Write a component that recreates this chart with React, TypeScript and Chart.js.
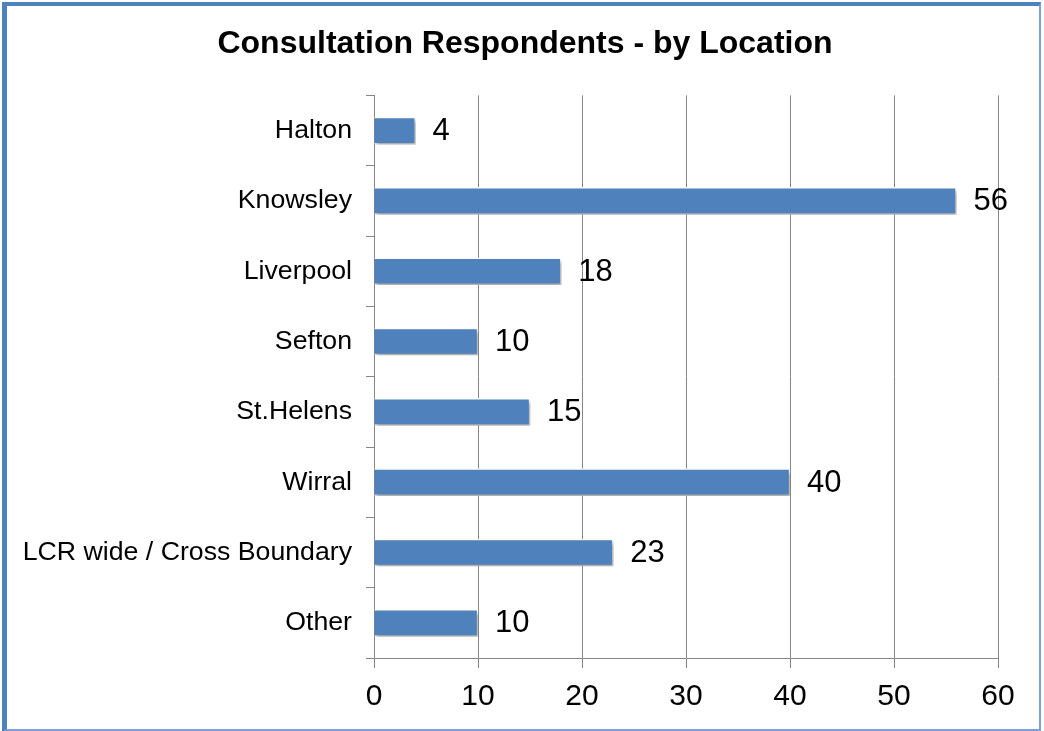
import React, { useEffect, useRef } from "react";
import { Chart, registerables } from "chart.js";

Chart.register(...registerables);

const chartTitle = "Consultation Respondents - by Location";
const categories = [
  "Halton",
  "Knowsley",
  "Liverpool",
  "Sefton",
  "St.Helens",
  "Wirral",
  "LCR wide / Cross Boundary",
  "Other",
];
const respondents = [4, 56, 18, 10, 15, 40, 23, 10];
const xTicks = [0, 10, 20, 30, 40, 50, 60];

const FONT = "'Liberation Sans', Arial, Helvetica, sans-serif";
const BAR_BLUE = "#4F81BD";
const GRID = "#868686";

const shadowPlugin = {
  id: "barShadow",
  beforeDatasetsDraw(chart: any) {
    const ctx = chart.ctx;
    ctx.save();
    ctx.shadowColor = "rgba(0,0,0,0.35)";
    ctx.shadowBlur = 4;
    ctx.shadowOffsetX = 2;
    ctx.shadowOffsetY = 3;
  },
  afterDatasetsDraw(chart: any) {
    chart.ctx.restore();
  },
};

const valueLabelPlugin = {
  id: "valueLabels",
  afterDatasetsDraw(chart: any) {
    const ctx = chart.ctx;
    const meta = chart.getDatasetMeta(0);
    const data = chart.data.datasets[0].data as number[];
    ctx.save();
    ctx.font = `31px ${FONT}`;
    ctx.fillStyle = "#000";
    ctx.textAlign = "left";
    ctx.textBaseline = "middle";
    meta.data.forEach((el: any, i: number) => {
      ctx.fillText(String(data[i]), el.x + 17, el.y + 1);
    });
    ctx.restore();
  },
};

export default function App() {
  const canvasRef = useRef<HTMLCanvasElement | null>(null);

  useEffect(() => {
    document.body.style.margin = "0";
    document.body.style.background = "#fff";
    const canvas = canvasRef.current;
    if (!canvas) return;
    const chart = new Chart(canvas, {
      type: "bar",
      data: {
        labels: categories,
        datasets: [
          {
            data: respondents,
            backgroundColor: BAR_BLUE,
            borderColor: "#FFFFFF",
            borderWidth: 1.5,
            barThickness: 27,
          },
        ],
      },
      options: {
        indexAxis: "y",
        responsive: false,
        animation: false,
        layout: { padding: { left: 6, right: 0, top: 0, bottom: 0 } },
        plugins: {
          legend: { display: false },
          tooltip: { enabled: false },
          title: {
            display: true,
            text: chartTitle,
            color: "#000",
            font: { family: FONT, size: 32, weight: "bold" },
            padding: { top: 25, bottom: 32 },
          },
        },
        scales: {
          x: {
            min: 0,
            max: 60,
            afterBuildTicks(scale: any) {
              scale.ticks = xTicks.map((v) => ({ value: v }));
            },
            afterFit(scale: any) {
              scale.height = 73;
            },
            grid: {
              color: GRID,
              lineWidth: 1,
              drawTicks: true,
              tickLength: 10,
            },
            border: { display: true, color: GRID, width: 1 },
            ticks: {
              color: "#000",
              font: { family: FONT, size: 30 },
              padding: 11,
              maxRotation: 0,
            },
          },
          y: {
            afterFit(scale: any) {
              scale.width = 368;
            },
            grid: {
              drawOnChartArea: false,
              drawTicks: true,
              tickLength: 8,
              color: GRID,
              offset: true,
            },
            border: { display: true, color: GRID, width: 1 },
            ticks: {
              color: "#000",
              font: { family: FONT, size: 26.7 },
              padding: 14,
            },
          },
          yRight: {
            type: "category",
            axis: "y",
            position: "right",
            afterFit(scale: any) {
              scale.width = 46;
            },
            grid: { display: false, drawTicks: false },
            border: { display: false },
            ticks: { display: false },
          },
        },
      },
      plugins: [shadowPlugin, valueLabelPlugin],
    } as any);
    return () => chart.destroy();
  }, []);

  return (
    <div style={{ position: "relative", width: 1044, height: 731, background: "#fff" }}>
      <canvas
        ref={canvasRef}
        width={1044}
        height={731}
        style={{ position: "absolute", left: 0, top: 0, width: 1044, height: 731 }}
      />
      <div
        style={{
          position: "absolute",
          left: 2,
          top: 2,
          width: 1032,
          height: 723,
          borderLeft: "5px solid #4F81BD",
          borderTop: "4px solid #4F81BD",
          borderRight: "2px solid #7FA1CF",
          borderBottom: "3px solid #7FA1CF",
          pointerEvents: "none",
          boxSizing: "content-box",
        }}
      />
    </div>
  );
}
